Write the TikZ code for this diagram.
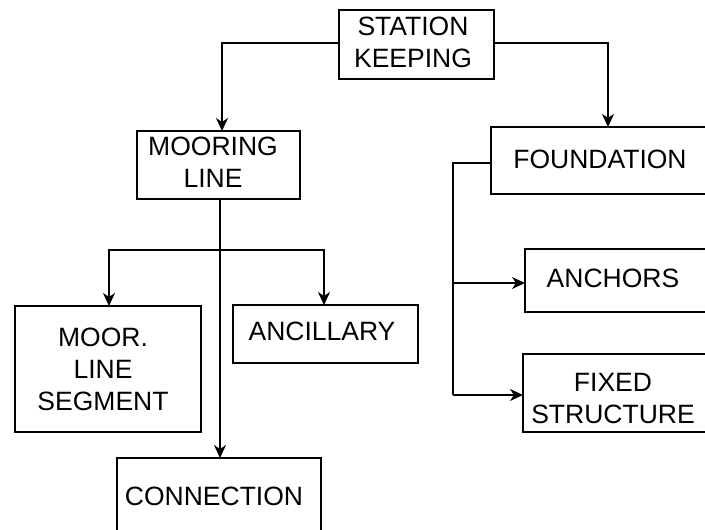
\documentclass[tikz,border=0pt]{standalone}
\usepackage{fontspec}
\setmainfont{Liberation Sans}
\usetikzlibrary{arrows.meta}
\begin{document}
\begin{tikzpicture}[x=1pt,y=-1pt,
  box/.style={draw=black,line width=1.4pt,rectangle,inner sep=0pt,outer sep=0pt},
  lbl/.style={font=\fontsize{26.5}{32}\selectfont,align=center,inner sep=0pt,anchor=base},
  link/.style={draw=black,line width=1.4pt,-{Stealth[length=13pt,width=12pt,inset=4pt]}},
  plain/.style={draw=black,line width=1.4pt}]
\useasboundingbox (0,0) rectangle (705,530);
\clip (0,0) rectangle (705,530);
\fill[white] (0,0) rectangle (705,530);

% boxes, given by centre and size
\node[box,minimum width=155pt,minimum height=69pt] (sk)  at (416.5,44.5) {};
\node[box,minimum width=163pt,minimum height=68pt] (ml)  at (218.5,165) {};
\node[box,minimum width=229pt,minimum height=67pt] (fd)  at (605.5,160.5) {};
\node[box,minimum width=195pt,minimum height=63pt] (an)  at (622.5,280.5) {};
\node[box,minimum width=197pt,minimum height=78pt] (fs)  at (621.5,393) {};
\node[box,minimum width=186pt,minimum height=126pt] (seg) at (108,369) {};
\node[box,minimum width=185pt,minimum height=58pt] (anc) at (325.5,334) {};
\node[box,minimum width=204pt,minimum height=87pt] (con) at (219,501.5) {};

% labels (base = baseline of the last line)
\node[lbl] (tsk)  at (413,67)  {STATION\\KEEPING};
\node[lbl] (tml)  at (213,187) {MOORING\\LINE};
\node[lbl] (tfd)  at (600,168) {FOUNDATION};
\node[lbl] (tan)  at (613,287) {ANCHORS};
\node[lbl] (tfs)  at (613,423) {FIXED\\STRUCTURE};
\node[lbl] (tseg) at (103,410) {MOOR.\\LINE\\SEGMENT};
\node[lbl] (tanc) at (322,340) {ANCILLARY};
\node[lbl] (tcon) at (214,505) {CONNECTION};

% routing points
\coordinate (skl) at (222,43);
\coordinate (skr) at (608,43);
\coordinate (mlstem) at (220,250);
\coordinate (brl) at (109,250);
\coordinate (brr) at (324,250);
\coordinate (fdl) at (453,163);
\coordinate (fdan) at (453,283);
\coordinate (fdfs) at (453,395);

% connectors
\draw[link] (sk.west |- skl) -- (skl) -- (ml.north -| skl);
\draw[link] (sk.east |- skr) -- (skr) -- (fd.north -| skr);
\draw[link] (ml.south -| mlstem) -- (con.north -| mlstem);
\draw[link] (mlstem) -- (brl) -- (seg.north -| brl);
\draw[link] (mlstem) -- (brr) -- (anc.north -| brr);
\draw[plain] (fd.west |- fdl) -- (fdl) -- (fdfs);
\draw[link] (fdfs) -- (fs.west |- fdfs);
\draw[link] (fdan) -- (an.west |- fdan);
\end{tikzpicture}
\end{document}
